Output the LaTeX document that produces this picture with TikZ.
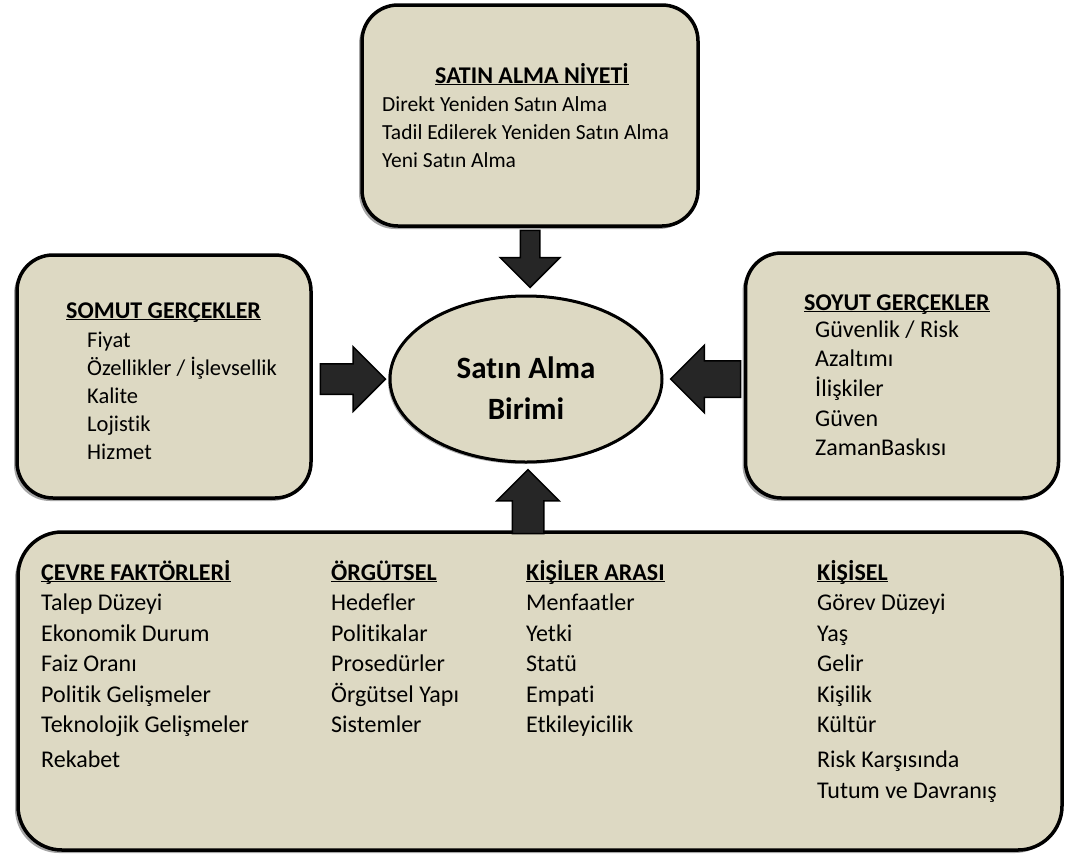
\documentclass[tikz,border=0pt]{standalone}
\usepackage{fontspec}
\setmainfont{Carlito}[Ligatures=CommonOff]
\usetikzlibrary{shapes.geometric, shapes.arrows, shadows, calc}
\definecolor{tanfill}{RGB}{221,217,195}
\definecolor{arrowgray}{RGB}{38,38,38}
\tikzset{
    panel/.style={draw, line width=3.5pt, rounded corners=36pt, fill=tanfill, inner sep=0pt,
        drop shadow={shadow xshift=-3pt, shadow yshift=-3pt, fill=black, opacity=0.35}}, % the rounded boxes
    unit/.style={ellipse, draw, line width=3pt, fill=tanfill, inner sep=0pt,
        drop shadow={shadow xshift=-2pt, shadow yshift=-2pt, fill=black, opacity=0.3}},
    blockarrow/.style={single arrow, draw=black, line width=1.5pt, fill=arrowgray, inner sep=#1,
        single arrow tip angle=90, anchor=tip}, % the fat arrows, #1 = half shaft
    item/.style={anchor=base west, inner sep=0pt},
    head/.style={item, font=\fontsize{24}{29}\selectfont},
}
\newcommand{\hd}[1]{\underline{\smash{\textbf{#1}}}}

\begin{document}
\begin{tikzpicture}[x=1pt, y=-1pt]
\useasboundingbox (0,0) rectangle (1076,857);

% boxes
\node[panel, minimum width=336pt, minimum height=221pt] (top) at (530,115.5) {};
\node[panel, minimum width=294pt, minimum height=243pt] (somut) at (164,376.5) {};
\node[panel, minimum width=313pt, minimum height=245pt] (soyut) at (902,375.5) {};
\node[panel, minimum width=1044pt, minimum height=318pt, rounded corners=44pt] (env) at (540,691) {};
\node[unit, minimum width=272pt, minimum height=166pt] (unit) at (526,379) {};
\node[font=\fontsize{31}{41}\selectfont\bfseries, align=center, inner sep=0pt] (unittext)
    at ([yshift=-9pt]unit.center) {Satın Alma\\Birimi};

% arrows, tip a little off the ellipse
\node[blockarrow=9pt, minimum height=57pt, single arrow head extend=20pt,
    shape border rotate=270] (arrtop) at ([xshift=4pt, yshift=6pt]unit.north) {};
\node[blockarrow=14.5pt, minimum height=65pt, single arrow head extend=17pt,
    shape border rotate=0] (arrleft) at ([xshift=-2pt]unit.west) {};
\node[blockarrow=17.5pt, minimum height=70pt, single arrow head extend=15.5pt,
    shape border rotate=180] (arrright) at ([xshift=6pt]unit.east) {};
\node[blockarrow=15pt, minimum height=64pt, single arrow head extend=15.5pt,
    shape border rotate=90] (arrbottom) at ([xshift=2pt, yshift=-5pt]unit.south) {};

% satin alma niyeti
\begin{scope}[font=\fontsize{21.5}{26}\selectfont]
\node[head, anchor=base] (niyet) at (532,83) {\hd{SATIN ALMA NİYETİ}};
\foreach \t [count=\i] in {Direkt Yeniden Satın Alma, Tadil Edilerek Yeniden Satın Alma, Yeni Satın Alma}
    \node[item] (niyet-\i) at (382,83+28*\i) {\t};
\end{scope}

% somut
\begin{scope}[font=\fontsize{22.5}{27}\selectfont]
\node[head] (somuth) at (66,318) {\hd{SOMUT GERÇEKLER}};
\foreach \t [count=\i] in {Fiyat, Özellikler / İşlevsellik, Kalite, Lojistik, Hizmet}
    \node[item] (somut-\i) at (87,319+28*\i) {\t};
\end{scope}

% soyut
\begin{scope}[font=\fontsize{24}{29}\selectfont]
\node[head] (soyuth) at (804,310) {\hd{SOYUT GERÇEKLER}};
\foreach \t [count=\i] in {Güvenlik / Risk, Azaltımı, İlişkiler, Güven, ZamanBaskısı}
    \node[item] (soyut-\i) at (815,307.3+29.7*\i) {\t};
\end{scope}

% cevre
\begin{scope}[font=\fontsize{24}{29}\selectfont]
\node[head] (cevreh) at (41,580) {\hd{ÇEVRE FAKTÖRLERİ}};
\foreach \t [count=\i] in {Talep Düzeyi, Ekonomik Durum, Faiz Oranı, Politik Gelişmeler, Teknolojik Gelişmeler}
    \node[item] (cevre-\i) at (41,579.9+30.6*\i) {\t};
\node[item] (cevre-6) at (41,767) {Rekabet};

\node[head] (orgh) at (331,580) {\hd{ÖRGÜTSEL}};
\foreach \t [count=\i] in {Hedefler, Politikalar, Prosedürler, Örgütsel Yapı, Sistemler}
    \node[item] (org-\i) at (331,579.9+30.6*\i) {\t};

\node[head] (arah) at (526,580) {\hd{KİŞİLER ARASI}};
\foreach \t [count=\i] in {Menfaatler, Yetki, Statü, Empati, Etkileyicilik}
    \node[item] (ara-\i) at (526,579.9+30.6*\i) {\t};

\node[head] (kish) at (817,580) {\hd{KİŞİSEL}};
\foreach \t [count=\i] in {Görev Düzeyi, Yaş, Gelir, Kişilik, Kültür}
    \node[item] (kis-\i) at (817,579.9+30.6*\i) {\t};
\node[item] (kis-6) at (817,767) {Risk Karşısında};
\node[item] (kis-7) at (817,798) {Tutum ve Davranış};
\end{scope}
\end{tikzpicture}
\end{document}
